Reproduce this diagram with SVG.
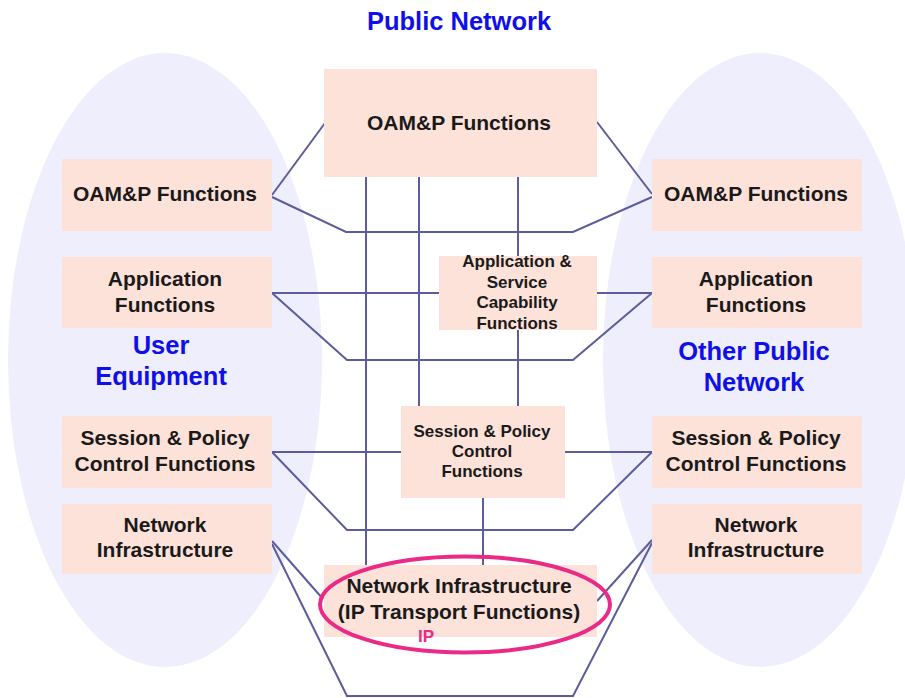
<svg xmlns="http://www.w3.org/2000/svg" width="905" height="698" viewBox="0 0 905 698">
<style>
.bg{fill:#eeeefc;}
.box{fill:#fde2d9;}
.ln{stroke:#5c5c9c;stroke-width:2;fill:none;stroke-linejoin:miter;}
.t{font-family:"Liberation Sans",Arial,sans-serif;font-weight:bold;font-size:21px;fill:#1a1a1a;text-anchor:middle;}
.s{font-size:17px;}
.b{font-family:"Liberation Sans",Arial,sans-serif;font-weight:bold;font-size:25.5px;fill:#1010e6;text-anchor:middle;}
</style>
<rect width="905" height="698" fill="#ffffff"/>
<g id="user-equipment">
<ellipse class="bg" cx="165" cy="360" rx="157" ry="307"/>
</g>
<g id="other-public-network">
<ellipse class="bg" cx="760" cy="360" rx="157" ry="307"/>
</g>
<g id="connectors">
<polyline class="ln" points="272,195 325,123"/>
<polyline class="ln" points="597,122 652,194"/>
<polyline class="ln" points="272,197 346,232 573,232 652,197"/>
<line class="ln" x1="366" y1="177" x2="366" y2="566"/>
<line class="ln" x1="419" y1="177" x2="419" y2="406"/>
<line class="ln" x1="518" y1="177" x2="518" y2="406"/>
<line class="ln" x1="272" y1="293" x2="440" y2="293"/>
<line class="ln" x1="597" y1="293" x2="652" y2="293"/>
<polyline class="ln" points="272,293 347,360 573,360 652,293"/>
<line class="ln" x1="272" y1="452" x2="402" y2="452"/>
<line class="ln" x1="565" y1="452" x2="652" y2="452"/>
<polyline class="ln" points="272,452 347,530 573,530 652,452"/>
<line class="ln" x1="483" y1="497" x2="483" y2="566"/>
<line class="ln" x1="272" y1="541" x2="323" y2="599"/>
<line class="ln" x1="652" y1="540" x2="597" y2="601"/>
<polyline class="ln" points="272,544 347,696 573,696 652,543"/>
</g>
<g id="ue-oamp"><rect class="box" x="62" y="159" width="210" height="72"/><text class="t" x="165" y="201">OAM&amp;P Functions</text></g>
<g id="ue-app"><rect class="box" x="62" y="257" width="210" height="71"/><text class="t" x="165" y="286">Application</text><text class="t" x="165" y="312">Functions</text></g>
<g id="ue-session"><rect class="box" x="62" y="416" width="210" height="72"/><text class="t" x="165" y="445">Session &amp; Policy</text><text class="t" x="165" y="471">Control Functions</text></g>
<g id="ue-network"><rect class="box" x="62" y="504" width="210" height="70"/><text class="t" x="165" y="532">Network</text><text class="t" x="165" y="557">Infrastructure</text></g>
<g id="op-oamp"><rect class="box" x="652" y="159" width="210" height="72"/><text class="t" x="756" y="201">OAM&amp;P Functions</text></g>
<g id="op-app"><rect class="box" x="652" y="257" width="210" height="71"/><text class="t" x="756" y="286">Application</text><text class="t" x="756" y="312">Functions</text></g>
<g id="op-session"><rect class="box" x="652" y="416" width="210" height="72"/><text class="t" x="756" y="445">Session &amp; Policy</text><text class="t" x="756" y="471">Control Functions</text></g>
<g id="op-network"><rect class="box" x="652" y="504" width="210" height="70"/><text class="t" x="756" y="532">Network</text><text class="t" x="756" y="557">Infrastructure</text></g>
<g id="pn-oamp"><rect class="box" x="324" y="69" width="273" height="108"/><text class="t" x="459" y="130">OAM&amp;P Functions</text></g>
<g id="pn-app"><rect class="box" x="439" y="256" width="158" height="74"/><text class="t s" x="517" y="267">Application &amp;</text><text class="t s" x="517" y="288">Service</text><text class="t s" x="517" y="308">Capability</text><text class="t s" x="517" y="329">Functions</text></g>
<g id="pn-session"><rect class="box" x="401" y="406" width="164" height="92"/><text class="t s" x="482" y="437">Session &amp; Policy</text><text class="t s" x="482" y="457">Control</text><text class="t s" x="482" y="477">Functions</text></g>
<g id="pn-network"><rect class="box" x="324" y="565" width="273" height="72"/><text class="t" x="459" y="593">Network Infrastructure</text><text class="t" x="459" y="619">(IP Transport Functions)</text>
<ellipse cx="465" cy="604.5" rx="145" ry="48" fill="none" stroke="#ea2a86" stroke-width="4"/>
<text x="426" y="642" font-family="Liberation Sans, Arial, sans-serif" font-weight="bold" font-size="17" fill="#ea2a86" text-anchor="middle">IP</text></g>
<g id="labels">
<text class="b" x="459" y="30">Public Network</text>
<text class="b" x="161" y="354">User</text>
<text class="b" x="161" y="385">Equipment</text>
<text class="b" x="754" y="360">Other Public</text>
<text class="b" x="754" y="391">Network</text>
</g>
</svg>
